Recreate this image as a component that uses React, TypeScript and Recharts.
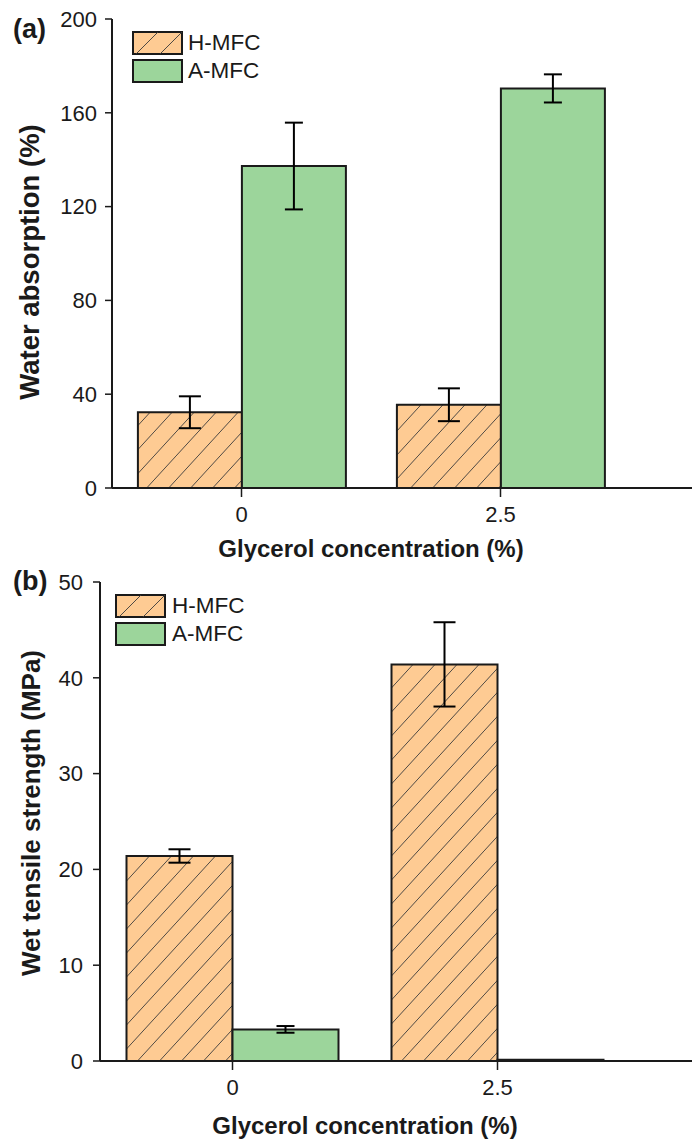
import { BarChart, Bar, XAxis, YAxis, ErrorBar } from "recharts";

const categories = ["0", "2.5"];

// (a) water absorption, %
const absorptionH = [32.3, 35.5];
const absorptionHErr = [6.8, 7.0];
const absorptionA = [137.3, 170.4];
const absorptionAErr = [18.5, 6.0];
const absorptionTicks = [0, 40, 80, 120, 160, 200];

// (b) wet tensile strength, MPa
const tensileH = [21.4, 41.4];
const tensileHErr = [0.7, 4.4];
const tensileA = [3.3, 0.12];
const tensileAErr = [0.35, null];
const tensileTicks = [0, 10, 20, 30, 40, 50];

const FONT = "'Liberation Sans', Arial, Helvetica, sans-serif";
const ORANGE = "#FECB93";
const GREEN = "#9CD59B";
const INK = "#1a1a1a";
const PAD_RIGHT = 62;

const absorptionData = categories.map((g, i) => ({
  g,
  h: absorptionH[i],
  hErr: absorptionHErr[i],
  a: absorptionA[i],
  aErr: absorptionAErr[i],
}));

const tensileData = categories.map((g, i) => ({
  g,
  h: tensileH[i],
  hErr: tensileHErr[i],
  a: tensileA[i],
  aErr: tensileAErr[i],
}));

function Hatch({ id }: { id: string }) {
  return (
    <defs>
      <pattern id={id} patternUnits="userSpaceOnUse" width={22} height={24}>
        <rect width={22} height={24} fill={ORANGE} />
        <path d="M0,24 L22,0" stroke="#3a3a3a" strokeWidth={0.9} />
      </pattern>
    </defs>
  );
}

function LegendSwatches({ left, top, textLeft }: { left: number; top: number; textLeft: number }) {
  const rows = [
    { name: "H-MFC", hatch: true },
    { name: "A-MFC", hatch: false },
  ];
  return (
    <div style={{ position: "absolute", left, top }}>
      {rows.map((r, i) => (
        <div key={r.name} style={{ position: "absolute", top: i * 27.5, left: 0, height: 24, width: 200 }}>
          <svg width={51} height={24} style={{ position: "absolute", left: 0, top: 0 }}>
            <rect x={1} y={1} width={49} height={22} fill={r.hatch ? ORANGE : GREEN} stroke={INK} strokeWidth={2} />
            {r.hatch && (
              <path d="M4,23 L26,1 M28,23 L50,1" stroke="#3a3a3a" strokeWidth={0.9} />
            )}
          </svg>
          <div
            style={{
              position: "absolute",
              left: textLeft - left,
              top: 0,
              lineHeight: "24px",
              fontSize: 22.5,
              color: INK,
              whiteSpace: "nowrap",
            }}
          >
            {r.name}
          </div>
        </div>
      ))}
    </div>
  );
}

type PanelProps = {
  data: any[];
  ticks: number[];
  yLabel: string;
  yLabelSize: number;
  yLabelY: number;
  axisWidth: number;
  height: number;
  xAxisHeight: number;
  tickMargin: number;
  yLabelX: number;
  xLabelY: number;
  patternId: string;
};

function Panel(p: PanelProps) {
  const max = p.ticks[p.ticks.length - 1];
  return (
    <BarChart
      width={692}
      height={p.height}
      data={p.data}
      margin={{ top: 19, right: 0, left: 0, bottom: 0 }}
      barCategoryGap="10%"
      barGap={0}
      style={{ fontFamily: FONT }}
    >
      <Hatch id={p.patternId} />
      <XAxis
        dataKey="g"
        height={p.xAxisHeight}
        padding={{ left: 0, right: PAD_RIGHT }}
        tickSize={9}
        tickMargin={9}
        axisLine={{ stroke: INK, strokeWidth: 2 }}
        tickLine={{ stroke: INK, strokeWidth: 1.5 }}
        tick={{ fill: INK, fontSize: 22 }}
        label={({ viewBox }: any) => (
          <text
            x={viewBox.x + (viewBox.width - PAD_RIGHT) / 2}
            y={p.xLabelY}
            textAnchor="middle"
            dominantBaseline="central"
            fontSize={24}
            fontWeight="bold"
            fill={INK}
          >
            Glycerol concentration (%)
          </text>
        )}
      />
      <XAxis
        xAxisId="top"
        dataKey="g"
        orientation="top"
        height={0}
        tick={false}
        tickLine={false}
        axisLine={{ stroke: "#333", strokeWidth: 2 }}
      />
      <YAxis
        width={p.axisWidth}
        domain={[0, max]}
        ticks={p.ticks}
        interval={0}
        allowDataOverflow
        tickSize={7}
        tickMargin={p.tickMargin}
        axisLine={{ stroke: INK, strokeWidth: 2 }}
        tickLine={{ stroke: INK, strokeWidth: 1.5 }}
        tick={{ fill: INK, fontSize: 22 }}
        label={() => (
          <text
            x={p.yLabelX}
            y={p.yLabelY}
            transform={`rotate(-90 ${p.yLabelX} ${p.yLabelY})`}
            textAnchor="middle"
            dominantBaseline="central"
            fontSize={p.yLabelSize}
            fontWeight="bold"
            fill={INK}
          >
            {p.yLabel}
          </text>
        )}
      />
      <Bar dataKey="h" name="H-MFC" fill={`url(#${p.patternId})`} stroke={INK} strokeWidth={2} isAnimationActive={false}>
        <ErrorBar dataKey="hErr" width={11} stroke="#000" strokeWidth={2} />
      </Bar>
      <Bar dataKey="a" name="A-MFC" fill={GREEN} stroke={INK} strokeWidth={2} isAnimationActive={false}>
        <ErrorBar dataKey="aErr" width={9} stroke="#000" strokeWidth={2} />
      </Bar>
    </BarChart>
  );
}

const panelLetter: React.CSSProperties = {
  position: "absolute",
  fontSize: 27,
  fontWeight: "bold",
  lineHeight: "27px",
  color: INK,
};

export default function App() {
  return (
    <div
      style={{
        position: "absolute",
        left: 0,
        top: 0,
        width: 692,
        height: 1141,
        background: "#fff",
        fontFamily: FONT,
        overflow: "hidden",
      }}
    >
      <div style={{ position: "absolute", left: 0, top: 0 }}>
        <Panel
          data={absorptionData}
          ticks={absorptionTicks}
          yLabel="Water absorption (%)"
          yLabelSize={27.5}
          yLabelY={262}
          axisWidth={112}
          height={563}
          xAxisHeight={75}
          tickMargin={8}
          yLabelX={29}
          xLabelY={548}
          patternId="hatch-a"
        />
      </div>
      <div style={{ position: "absolute", left: 0, top: 563 }}>
        <Panel
          data={tensileData}
          ticks={tensileTicks}
          yLabel="Wet tensile strength (MPa)"
          yLabelSize={26}
          yLabelY={250}
          axisWidth={100}
          height={578}
          xAxisHeight={80}
          tickMargin={10}
          yLabelX={31}
          xLabelY={562}
          patternId="hatch-b"
        />
      </div>
      <div style={{ ...panelLetter, left: 13, top: 16 }}>(a)</div>
      <div style={{ ...panelLetter, left: 13, top: 568 }}>(b)</div>
      <LegendSwatches left={132} top={31} textLeft={188} />
      <LegendSwatches left={115} top={594} textLeft={172} />
    </div>
  );
}
